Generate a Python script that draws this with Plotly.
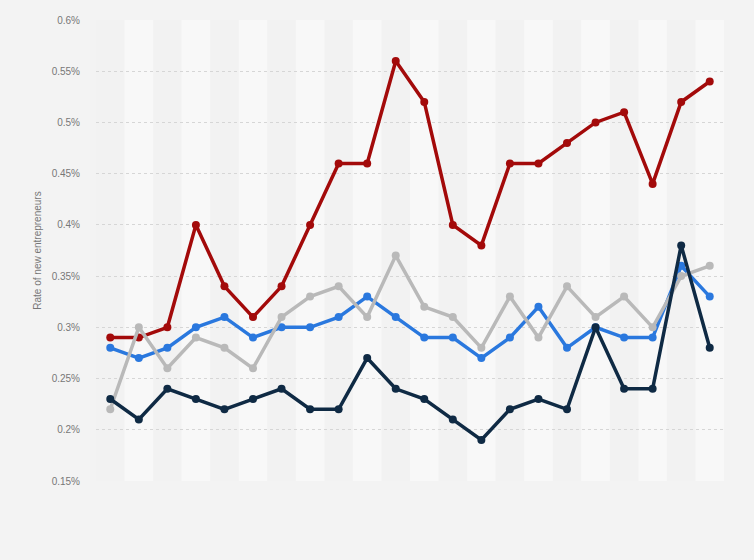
import plotly.graph_objects as go

years = [str(2000 + i) for i in range(22)]
red = [0.29, 0.29, 0.30, 0.40, 0.34, 0.31, 0.34, 0.40, 0.46, 0.46, 0.56, 0.52, 0.40, 0.38, 0.46, 0.46, 0.48, 0.50, 0.51, 0.44, 0.52, 0.54]
blue = [0.28, 0.27, 0.28, 0.30, 0.31, 0.29, 0.30, 0.30, 0.31, 0.33, 0.31, 0.29, 0.29, 0.27, 0.29, 0.32, 0.28, 0.30, 0.29, 0.29, 0.36, 0.33]
gray = [0.22, 0.30, 0.26, 0.29, 0.28, 0.26, 0.31, 0.33, 0.34, 0.31, 0.37, 0.32, 0.31, 0.28, 0.33, 0.29, 0.34, 0.31, 0.33, 0.30, 0.35, 0.36]
navy = [0.23, 0.21, 0.24, 0.23, 0.22, 0.23, 0.24, 0.22, 0.22, 0.27, 0.24, 0.23, 0.21, 0.19, 0.22, 0.23, 0.22, 0.30, 0.24, 0.24, 0.38, 0.28]
yticks = [0.15, 0.2, 0.25, 0.3, 0.35, 0.4, 0.45, 0.5, 0.55, 0.6]
ytick_labels = ["0.15%", "0.2%", "0.25%", "0.3%", "0.35%", "0.4%", "0.45%", "0.5%", "0.55%", "0.6%"]

series = [
    ("Series 1", red, "#a30a0a"),
    ("Series 2", blue, "#2a78de"),
    ("Series 3", gray, "#b9b9b9"),
    ("Series 4", navy, "#0f2a44"),
]

fig = go.Figure()
x = list(range(len(years)))
for name, vals, col in series:
    fig.add_trace(go.Scatter(
        x=x, y=vals, name=name, mode="lines+markers",
        line=dict(color=col, width=3.5),
        marker=dict(color=col, size=8),
        hoverinfo="skip",
    ))

shapes = []
for i in range(len(years)):
    if i % 2 == 1:
        shapes.append(dict(type="rect", xref="x", yref="paper", x0=i - 0.5, x1=i + 0.5, y0=0, y1=1,
                           fillcolor="#f8f8f8", line=dict(width=0), layer="below"))

fig.update_layout(
    width=754, height=560,
    paper_bgcolor="#f3f3f3", plot_bgcolor="#f2f2f2",
    margin=dict(l=96, r=30, t=20, b=79),
    showlegend=False,
    shapes=shapes,
    font=dict(family="Liberation Sans, Arial, sans-serif", color="#777777", size=10),
    xaxis=dict(range=[-0.5, len(years) - 0.5], showticklabels=False, showgrid=False,
               zeroline=False, showline=False, ticks=""),
    yaxis=dict(range=[0.15, 0.6], tickvals=yticks, ticktext=ytick_labels,
               showgrid=True, gridcolor="#d6d6d6", griddash="dot", gridwidth=1,
               zeroline=False, showline=False, ticks="", ticklen=0,
               ticklabelstandoff=15,
               title=dict(text="Rate of new entrepreneurs", font=dict(size=10, color="#777777"), standoff=8),
               tickfont=dict(size=10, color="#777777")),
)

fig.write_html("out.html")
